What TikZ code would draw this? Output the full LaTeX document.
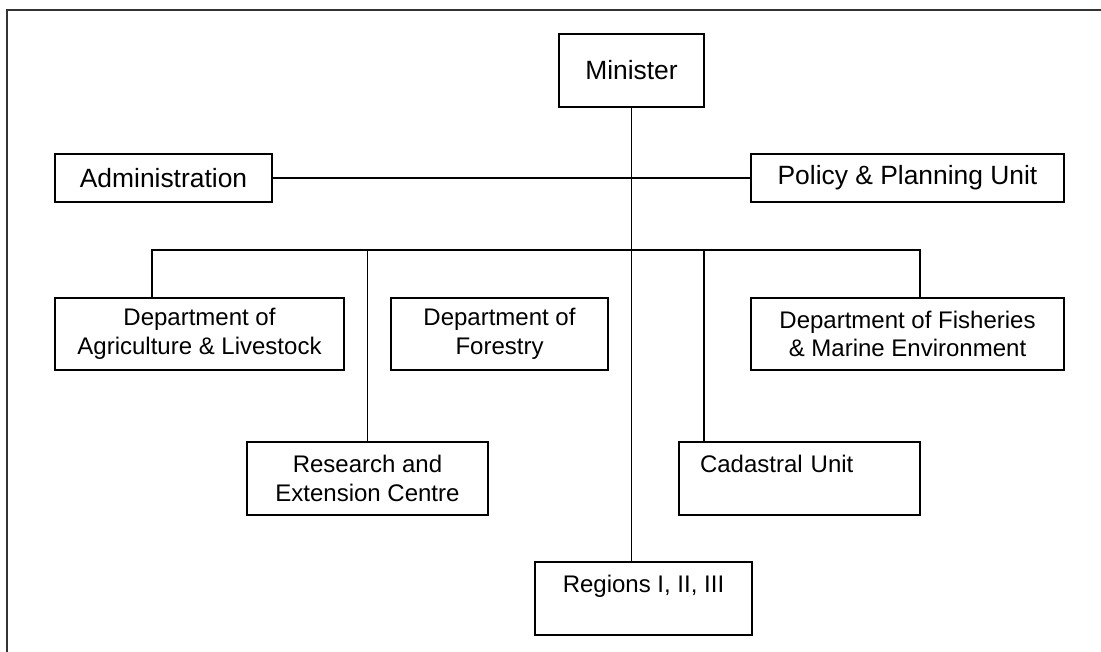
\documentclass[tikz,border=0pt]{standalone}
\usepackage{fontspec}
\setmainfont{Liberation Sans}
\usepackage{tikz}
\usetikzlibrary{positioning}

\tikzset{
    box/.style={draw, line width=1.8pt, inner sep=0pt, align=center,
        font=\fontsize{26.4}{30}\selectfont},
    subbox/.style={box, font=\fontsize{24}{28.5}\selectfont},
    link/.style={line width=1.3pt},
    frame/.style={line width=2pt, color=black!80}
}

\begin{document}
\begin{tikzpicture}[x=1pt, y=-1pt]
                \useasboundingbox (0,0) rectangle (1101,652);
                \draw[frame] (1101,10) -- (7,10) -- (7,652);

                \node[box, minimum width=145, minimum height=73] (minister) at (631.5,70.5) {Minister};
                \node[box, minimum width=217, minimum height=48] (admin) at (163.5,178) {Administration};
                \node[box, minimum width=313, minimum height=48] (policy) at (907.5,178) {Policy \& Planning Unit};

                \node[subbox, minimum width=289, minimum height=72] (agri) at (199.5,334) {Department of\\Agriculture \& Livestock};
                \node[subbox, minimum width=217, minimum height=72] (forestry) at (499.5,334) {Department of\\Forestry};
                \node[subbox, minimum width=313, minimum height=72] (fisheries) at (907.5,334) {Department of Fisheries\\\& Marine Environment};

                \node[subbox, minimum width=241, minimum height=73] (research) at (367.5,478.5) {Research and\\Extension Centre};
                \node[subbox, minimum width=241, minimum height=73, align=left, text width=199] (cadastral) at (799.5,478.5) {Cadastral Unit\\\mbox{}};
                \node[subbox, minimum width=217, minimum height=73] (regions) at (643.5,598.5) {Regions I, II, III\\\mbox{}};

                \coordinate (bus) at (632,250);

                \draw[link] (minister.south) -- (minister.south |- regions.north);
                \draw[link] (admin.east) -- (policy.west);

                \draw[link] ([xshift=-47.5]agri.north) |- ([xshift=12.5]fisheries.north |- bus)
                    -- ([xshift=12.5]fisheries.north);
                \draw[link] (research.north) -- (research.north |- bus);
                \draw[link] ([xshift=-95.5]cadastral.north) -- ([xshift=-95.5]cadastral.north |- bus);
            \end{tikzpicture}
\end{document}
